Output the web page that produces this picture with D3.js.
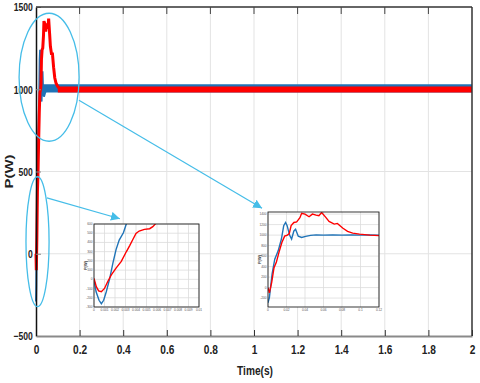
<!DOCTYPE html>
<html>
<head>
<meta charset="utf-8">
<script src="https://cdn.jsdelivr.net/npm/d3@7"></script>
<style>
body { margin: 0; background: #fff; }
text { font-family: "Liberation Sans", Arial, sans-serif; }
</style>
</head>
<body>
<div id="chart"></div>
<script>
// main axis ticks
var timeTicks = [0, 0.2, 0.4, 0.6, 0.8, 1, 1.2, 1.4, 1.6, 1.8, 2];
var powerTicks = [-500, 0, 500, 1000, 1500];

// transient (0 - 0.12 s)
var blueTime  = [0, 0.0015, 0.0044, 0.0073, 0.011, 0.0145, 0.017, 0.019, 0.0207, 0.0233, 0.0255, 0.028, 0.0298, 0.0327, 0.0364, 0.0407, 0.046, 0.052, 0.06, 0.07, 0.08, 0.09, 0.1, 0.11, 0.12];
var bluePower = [-290, -190, 255, 540, 700, 925, 1180, 1240, 1180, 1000, 925, 1080, 1110, 980, 955, 975, 995, 1005, 1000, 1005, 1000, 1005, 1000, 1003, 1000];
var redTime  = [0, 0.0015, 0.004, 0.0065, 0.009, 0.012, 0.015, 0.018, 0.021, 0.023, 0.025, 0.028, 0.031, 0.0345, 0.0364, 0.04, 0.0444, 0.048, 0.052, 0.055, 0.058, 0.0625, 0.066, 0.0716, 0.075, 0.0807, 0.086, 0.0916, 0.099, 0.11, 0.12];
var redPower = [0, -100, 100, 380, 480, 680, 860, 980, 1000, 1030, 1180, 1240, 1250, 1330, 1414, 1400, 1350, 1400, 1380, 1370, 1430, 1337, 1261, 1210, 1223, 1134, 1070, 1038, 1019, 1000, 990];

// steady state ripple bands (start, end) and (low, high)
var blueBandTime = [0.02, 2];
var blueBand = [980, 1030];
var redBandTime = [0.1, 2];
var redBand = [980, 1016];

// left inset, first milliseconds
var zoomTime = [0, 0.001, 0.002, 0.003, 0.004, 0.005, 0.006, 0.007, 0.008, 0.009, 0.01];
var zoomPower = [-300, -200, -100, 0, 100, 200, 300, 400, 500, 600];
var zoomBlueTime  = [0, 0.0002, 0.00048, 0.0007, 0.00092, 0.00117, 0.0015, 0.0018, 0.0021, 0.0024, 0.0028, 0.0031];
var zoomBluePower = [-7, -135, -227, -264, -227, -135, 11, 176, 322, 425, 505, 608];
var zoomRedTime  = [0, 0.00022, 0.00044, 0.0007, 0.001, 0.0013, 0.00165, 0.0021, 0.0026, 0.0031, 0.0034, 0.0037, 0.004, 0.0043, 0.0048, 0.0053, 0.0056, 0.0059];
var zoomRedPower = [11, -80, -125, -135, -99, -26, 48, 121, 194, 304, 366, 432, 498, 524, 542, 549, 571, 608];

// right inset ticks
var peakTime = [0, 0.02, 0.04, 0.06, 0.08, 0.1, 0.12];
var peakPower = [-200, 0, 200, 400, 600, 800, 1000, 1200, 1400];

var blueColor = "#1f73b7";
var redColor = "#ff0000";
var noteColor = "#45bde8";
var squeeze = 0.78;

var width = 480, height = 383;
var svg = d3.select("#chart").append("svg")
    .attr("width", width)
    .attr("height", height);

var plotLeft = 36, plotRight = 472, plotTop = 7, plotBottom = 336;

var x = d3.scaleLinear().domain([0, 2]).range([plotLeft, plotRight]);
var y = d3.scaleLinear().domain([-500, 1500]).range([plotBottom, plotTop]);

function zipped(ts, ps) {
    return ts.map(function(t, i) { return [t, ps[i]]; });
}

// grid
svg.append("g").selectAll("line").data(timeTicks.slice(1, -1)).enter().append("line")
    .attr("x1", function(d) { return x(d); }).attr("x2", function(d) { return x(d); })
    .attr("y1", plotTop).attr("y2", plotBottom)
    .attr("stroke", "#e3e3e3").attr("stroke-width", 1);
svg.append("g").selectAll("line").data(powerTicks.slice(1, -1)).enter().append("line")
    .attr("x1", plotLeft).attr("x2", plotRight)
    .attr("y1", function(d) { return y(d); }).attr("y2", function(d) { return y(d); })
    .attr("stroke", "#e3e3e3").attr("stroke-width", 1);

// data
var plot = svg.append("g");
var band = d3.area()
    .x(function(d) { return x(d[0]); })
    .y0(function(d) { return y(d[1]); })
    .y1(function(d) { return y(d[2]); });
var mainLine = d3.line()
    .x(function(d) { return x(d[0]); })
    .y(function(d) { return y(d[1]); });

plot.append("path")
    .datum(blueBandTime.map(function(t) { return [t, blueBand[0], blueBand[1]]; }))
    .attr("d", band).attr("fill", blueColor);
plot.append("path")
    .datum(zipped(blueTime, bluePower))
    .attr("d", mainLine).attr("fill", "none")
    .attr("stroke", blueColor).attr("stroke-width", 2);
plot.append("path")
    .datum(redBandTime.map(function(t) { return [t, redBand[0], redBand[1]]; }))
    .attr("d", band).attr("fill", redColor);
plot.append("path")
    .datum(zipped(redTime, redPower))
    .attr("d", mainLine).attr("fill", "none")
    .attr("stroke", redColor).attr("stroke-width", 3);

// axes
var xAxis = svg.append("g")
    .attr("transform", "translate(0," + plotBottom + ")")
    .call(d3.axisBottom(x).tickValues(timeTicks).tickSizeInner(-6).tickSizeOuter(0).tickPadding(9)
        .tickFormat(d3.format("~g")));
xAxis.select(".domain").attr("stroke", "#8a8a8a").attr("stroke-width", 2);
xAxis.selectAll(".tick line").attr("stroke", "#333");

var yAxis = svg.append("g")
    .attr("transform", "translate(" + plotLeft + ",0)")
    .call(d3.axisLeft(y).tickValues(powerTicks).tickSizeInner(-5).tickSizeOuter(0).tickPadding(4)
        .tickFormat(d3.format("d")));
yAxis.select(".domain").attr("stroke", "#111").attr("stroke-width", 1.5);
yAxis.selectAll(".tick line").attr("stroke", "#888");

[xAxis, yAxis].forEach(function(a) {
    a.selectAll(".tick text")
        .attr("fill", "#222")
        .attr("font-weight", "bold")
        .attr("font-family", "Liberation Sans, Arial, sans-serif")
        .attr("transform", "scale(" + squeeze + ",1)");
});
xAxis.selectAll(".tick text").attr("font-size", 13);
yAxis.selectAll(".tick text").attr("font-size", 11).attr("dy", "0.36em");

// top and right frame with inward ticks
svg.append("line").attr("x1", plotLeft).attr("x2", plotRight).attr("y1", plotTop).attr("y2", plotTop)
    .attr("stroke", "#333").attr("stroke-width", 1.5);
svg.append("line").attr("x1", plotRight).attr("x2", plotRight).attr("y1", plotTop).attr("y2", plotBottom)
    .attr("stroke", "#333").attr("stroke-width", 1.5);
svg.append("g").selectAll("line").data(timeTicks.slice(1, -1)).enter().append("line")
    .attr("x1", function(d) { return x(d); }).attr("x2", function(d) { return x(d); })
    .attr("y1", plotTop).attr("y2", plotTop + 7)
    .attr("stroke", "#444");

// axis titles
svg.append("text")
    .attr("transform", "translate(" + ((plotLeft + plotRight) / 2 + 1) + ",375) scale(" + squeeze + ",1)")
    .attr("text-anchor", "middle")
    .attr("font-size", 13).attr("font-weight", "bold").attr("fill", "#222")
    .text("Time(s)");
svg.append("text")
    .attr("transform", "translate(13," + ((plotTop + plotBottom) / 2) + ") rotate(-90) scale(1," + squeeze + ")")
    .attr("text-anchor", "middle")
    .attr("font-size", 15).attr("font-weight", "bold").attr("fill", "#222")
    .text("P(W)");

// callouts (in data units)
var defs = svg.append("defs");
defs.append("marker")
    .attr("id", "head")
    .attr("viewBox", "0 0 10 10")
    .attr("refX", 10).attr("refY", 5)
    .attr("markerWidth", 9).attr("markerHeight", 9)
    .attr("markerUnits", "userSpaceOnUse")
    .attr("orient", "auto")
  .append("path").attr("d", "M0,0L10,5L0,10z").attr("fill", noteColor);

var ellipses = [
    { t: 0.06, p: 1073, dt: 0.1376, dp: 389 },
    { t: 0.007, p: 73, dt: 0.053, dp: 395 }
];
var arrows = [
    { t0: 0.197, p0: 933, t1: 1.037, p1: 277 },
    { t0: 0.05, p0: 340, t1: 0.385, p1: 213 }
];
svg.append("g").selectAll("ellipse").data(ellipses).enter().append("ellipse")
    .attr("cx", function(d) { return x(d.t); })
    .attr("cy", function(d) { return y(d.p); })
    .attr("rx", function(d) { return x(d.dt) - x(0); })
    .attr("ry", function(d) { return y(0) - y(d.dp); })
    .attr("fill", "none").attr("stroke", noteColor).attr("stroke-width", 1.3);
svg.append("g").selectAll("line").data(arrows).enter().append("line")
    .attr("x1", function(d) { return x(d.t0); }).attr("y1", function(d) { return y(d.p0); })
    .attr("x2", function(d) { return x(d.t1); }).attr("y2", function(d) { return y(d.p1); })
    .attr("stroke", noteColor).attr("stroke-width", 1.2)
    .attr("marker-end", "url(#head)");

// insets
function drawInset(id, box, tDomain, pDomain, tTicks, pTicks, tFormat, series) {
    var ix = d3.scaleLinear().domain(tDomain).range([box.x0, box.x1]);
    var iy = d3.scaleLinear().domain(pDomain).range([box.y1, box.y0]);
    var g = svg.append("g");
    g.append("rect")
        .attr("x", box.x0).attr("y", box.y0)
        .attr("width", box.x1 - box.x0).attr("height", box.y1 - box.y0)
        .attr("fill", "#fff");
    g.append("g").selectAll("line").data(tTicks).enter().append("line")
        .attr("x1", function(d) { return ix(d); }).attr("x2", function(d) { return ix(d); })
        .attr("y1", box.y0).attr("y2", box.y1)
        .attr("stroke", "#dcdcdc").attr("stroke-width", 0.8);
    g.append("g").selectAll("line").data(pTicks).enter().append("line")
        .attr("x1", box.x0).attr("x2", box.x1)
        .attr("y1", function(d) { return iy(d); }).attr("y2", function(d) { return iy(d); })
        .attr("stroke", "#dcdcdc").attr("stroke-width", 0.8);

    defs.append("clipPath").attr("id", id)
      .append("rect")
        .attr("x", box.x0).attr("y", box.y0)
        .attr("width", box.x1 - box.x0).attr("height", box.y1 - box.y0);
    var line = d3.line()
        .x(function(d) { return ix(d[0]); })
        .y(function(d) { return iy(d[1]); });
    series.forEach(function(s) {
        g.append("path")
            .datum(zipped(s.t, s.p))
            .attr("clip-path", "url(#" + id + ")")
            .attr("d", line).attr("fill", "none")
            .attr("stroke", s.color).attr("stroke-width", 1.4);
    });

    g.append("rect")
        .attr("x", box.x0).attr("y", box.y0)
        .attr("width", box.x1 - box.x0).attr("height", box.y1 - box.y0)
        .attr("fill", "none").attr("stroke", "#222").attr("stroke-width", 0.9);

    g.append("g").selectAll("text").data(tTicks).enter().append("text")
        .attr("x", function(d) { return ix(d); }).attr("y", box.y1 + 4)
        .attr("text-anchor", "middle")
        .attr("font-size", 3.2).attr("fill", "#555")
        .text(tFormat);
    g.append("g").selectAll("text").data(pTicks).enter().append("text")
        .attr("x", box.x0 - 1.5).attr("y", function(d) { return iy(d) + 1; })
        .attr("text-anchor", "end")
        .attr("font-size", 3.2).attr("fill", "#555")
        .text(function(d) { return d; });
    g.append("text")
        .attr("transform", "translate(" + (box.x0 - 7) + "," + ((box.y0 + box.y1) / 2) + ") rotate(-90)")
        .attr("text-anchor", "middle")
        .attr("font-size", 4).attr("font-weight", "bold").attr("fill", "#333")
        .text("P(W)");
}

drawInset("clipZoom", { x0: 94, x1: 199, y0: 224, y1: 307 },
    [0, 0.01], [-300, 600], zoomTime, zoomPower, d3.format("~g"),
    [{ t: zoomBlueTime, p: zoomBluePower, color: blueColor },
     { t: zoomRedTime, p: zoomRedPower, color: redColor }]);

drawInset("clipPeak", { x0: 268, x1: 379, y0: 212, y1: 307 },
    [0, 0.12], [-370, 1440], peakTime, peakPower, d3.format("~g"),
    [{ t: blueTime, p: bluePower, color: blueColor },
     { t: redTime, p: redPower, color: redColor }]);
</script>
</body>
</html>
